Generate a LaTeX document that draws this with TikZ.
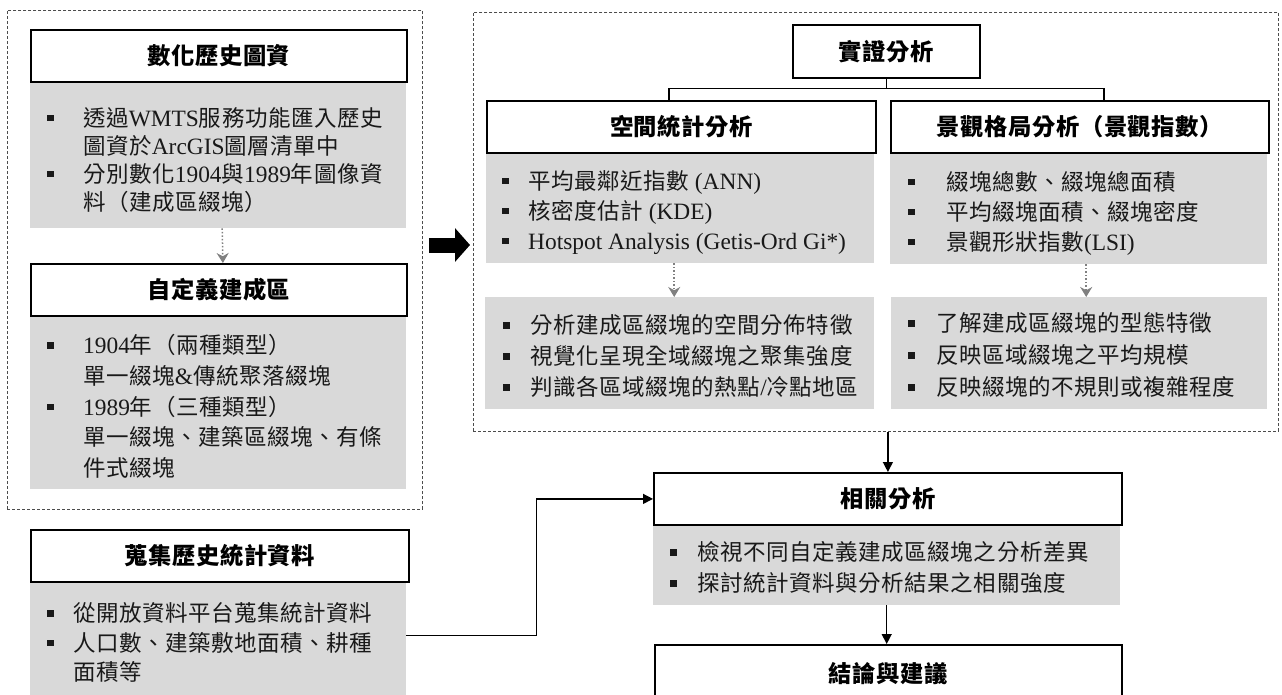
\documentclass[tikz,border=0pt]{standalone}
\usepackage{fontspec}
\setmainfont{Liberation Serif}[Scale=1.04]
\newfontfamily\cj{Noto Sans CJK TC}[LetterSpace=2.5]
\usetikzlibrary{arrows.meta}
\newcommand\lt[1]{{\rmfamily #1}}
\newcommand\bul[1]{\makebox[#1][l]{\rule[5pt]{6.5pt}{6.5pt}}}
\newcommand\ind[1]{\makebox[#1]{}}
\definecolor{bodygray}{HTML}{D9D9D9}
\tikzset{
  panel/.style={draw=black!70, dash pattern=on 3pt off 2pt, line width=0.8pt, anchor=north west, inner sep=0pt},
  ttl/.style={draw=black, line width=1.8pt, fill=white, anchor=north west, inner sep=0pt,
    font=\cj\bfseries\fontsize{23.3}{27}\selectfont},
  body/.style={fill=bodygray, draw=none, anchor=north west, inner sep=0pt},
  txt/.style={anchor=west, inner sep=0pt, align=left, text=black!90,
    font=\cj\fontsize{22.5}{30}\selectfont},
  conn/.style={line width=1.3pt, -{Triangle[length=10pt,width=10pt]}},
  dconn/.style={draw=black!50, dotted, line width=1.5pt, -{Stealth[length=10pt,width=12pt]}},
  bigarrow/.style={line width=15pt, -{Triangle[length=15pt,width=33pt]}},
}
\begin{document}
\begin{tikzpicture}[x=1pt,y=-1pt]
\useasboundingbox (0,0) rectangle (1282,695);
% panels
\node[panel, minimum width=415pt, minimum height=499pt] (lp) at (7,10) {};
\node[panel, minimum width=805pt, minimum height=419pt] (rp) at (473,12) {};
% left column
\node[body, minimum width=376pt, minimum height=147pt] (b1) at (30,81) {};
\node[ttl, minimum width=376pt, minimum height=52pt] (t1) at (30,29) {數化歷史圖資};
\node[txt, font=\cj\fontsize{22.5}{28}\selectfont] (b1t) at (47,160) {\bul{36pt}透過\lt{WMTS}服務功能匯入歷史\\ \ind{36pt}圖資於\lt{ArcGIS}圖層清單中\\ \bul{36pt}分別數化\lt{1904}與\lt{1989}年圖像資\\ \ind{36pt}料（建成區綴塊）};
\node[body, minimum width=376pt, minimum height=174pt] (b2) at (30,315) {};
\node[ttl, minimum width=376pt, minimum height=52pt] (t2) at (30,263) {自定義建成區};
\node[txt, font=\cj\fontsize{22.5}{30.7}\selectfont] (b2t) at (47,406.5) {\bul{36pt}\lt{1904}年（兩種類型）\\ \ind{36pt}單一綴塊\lt{\&}傳統聚落綴塊\\ \bul{36pt}\lt{1989}年（三種類型）\\ \ind{36pt}單一綴塊、建築區綴塊、有條\\ \ind{36pt}件式綴塊};
\draw[dconn] ([xshift=4pt]b1.south) -- ([xshift=4pt]t2.north);
% bottom-left
\node[body, minimum width=376pt, minimum height=125pt] (b3) at (30,581) {};
\node[ttl, minimum width=378pt, minimum height=52pt] (t3) at (30,529) {蒐集歷史統計資料};
\node[txt, font=\cj\fontsize{22.5}{29.5}\selectfont] (b3t) at (47,642.5) {\bul{26pt}從開放資料平台蒐集統計資料\\ \bul{26pt}人口數、建築敷地面積、耕種\\ \ind{26pt}面積等};
% big arrow
\coordinate (arY) at (0,245);
\draw[bigarrow, shorten <=6pt, shorten >=3pt] (lp.east |- arY) -- (rp.west |- arY);
% right panel
\node[ttl, minimum width=187pt, minimum height=53pt] (sz) at (792,24) {實證分析};
\node[body, minimum width=388pt, minimum height=111pt] (b4) at (486,152) {};
\node[ttl, minimum width=389pt, minimum height=52pt] (t4) at (486,100) {空間統計分析};
\node[body, minimum width=377pt, minimum height=112pt] (b5) at (890,152) {};
\node[ttl, minimum width=378pt, minimum height=52pt] (t5) at (890,100) {景觀格局分析（景觀指數）};
\draw[line width=1.3pt] (sz.south) -- ++(0,10) coordinate (jn);
\draw[line width=1.3pt] (jn) -| ([xshift=-12.5pt]t4.north);
\draw[line width=1.3pt] (jn) -| ([xshift=24pt]t5.north);
\node[txt] (b4t) at (502,212.5) {\bul{26pt}平均最鄰近指數\lt{ (ANN)}\\ \bul{26pt}核密度估計\lt{ (KDE)}\\ \bul{26pt}\lt{Hotspot Analysis (Getis-Ord Gi*)}};
\node[txt] (b5t) at (908,213) {\bul{38pt}綴塊總數、綴塊總面積\\ \bul{38pt}平均綴塊面積、綴塊密度\\ \bul{38pt}景觀形狀指數\lt{(LSI)}};
\node[body, minimum width=389pt, minimum height=112pt] (b6) at (485,297) {};
\node[body, minimum width=376pt, minimum height=112pt] (b7) at (891,297) {};
\draw[dconn] ([xshift=-6pt]b4.south) -- ([xshift=-6pt]b4.south |- b6.north);
\draw[dconn] ([xshift=7.5pt]b5.south) -- ([xshift=7.5pt]b5.south |- b7.north);
\node[txt, font=\cj\fontsize{22.5}{31}\selectfont] (b6t) at (503,356) {\bul{27pt}分析建成區綴塊的空間分佈特徵\\ \bul{27pt}視覺化呈現全域綴塊之聚集強度\\ \bul{27pt}判識各區域綴塊的熱點\lt{/}冷點地區};
\node[txt, font=\cj\fontsize{22.5}{32}\selectfont] (b7t) at (908,355) {\bul{28pt}了解建成區綴塊的型態特徵\\ \bul{28pt}反映區域綴塊之平均規模\\ \bul{28pt}反映綴塊的不規則或複雜程度};
% correlation
\node[body, minimum width=467pt, minimum height=81pt] (b8) at (653,524) {};
\node[ttl, minimum width=468pt, minimum height=52pt] (t6) at (653,472) {相關分析};
\node[txt, font=\cj\fontsize{22.5}{31}\selectfont] (b8t) at (670,567.5) {\bul{27pt}檢視不同自定義建成區綴塊之分析差異\\ \bul{27pt}探討統計資料與分析結果之相關強度};
\node[ttl, minimum width=467pt, minimum height=58pt] (t7) at (654,644) {結論與建議};
\draw[conn] (t6.north |- rp.south) -- (t6.north);
\draw[conn] (b8.south) -- (b8.south |- t7.north);
\draw[line width=1.3pt, -{Triangle[length=10pt,width=10pt]}] ([yshift=8pt]b3.east) -- ++(130,0) |- (t6.west);
\end{tikzpicture}
\end{document}
